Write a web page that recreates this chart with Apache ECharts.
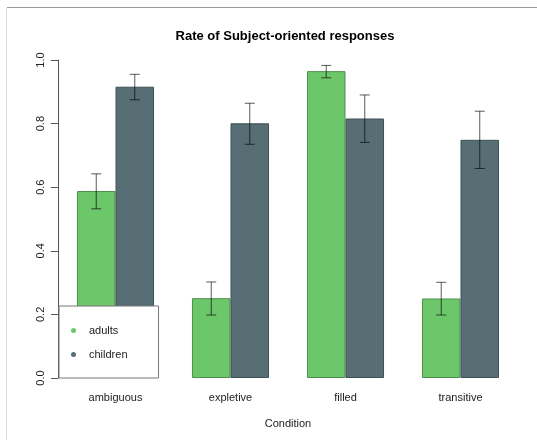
<!DOCTYPE html>
<html>
<head>
<meta charset="utf-8">
<script src="https://cdn.jsdelivr.net/npm/echarts@6/dist/echarts.min.js"></script>
<style>
  html, body { margin: 0; padding: 0; background: #fff; }
  #chart_1 { width: 537px; height: 440px; }
</style>
</head>
<body>
<div id="chart_1"></div>
<script>
var categories = ['ambiguous', 'expletive', 'filled', 'transitive'];
var adultsMean = [0.588, 0.251, 0.965, 0.250];
var adultsLow = [0.532, 0.198, 0.944, 0.198];
var adultsHigh = [0.642, 0.302, 0.983, 0.301];
var childrenMean = [0.916, 0.801, 0.816, 0.749];
var childrenLow = [0.875, 0.735, 0.741, 0.659];
var childrenHigh = [0.955, 0.864, 0.890, 0.839];
var yTicks = [0, 0.2, 0.4, 0.6, 0.8, 1.0];

var chart_1 = echarts.init(document.getElementById('chart_1'));

// error bar drawn per category, shifted to the centre of its bar
function errorSeries(name, low, high, offset) {
    var data = [];
    for (var i = 0; i < low.length; i++) {
        data.push([i, low[i], high[i]]);
    }
    return {
        name: name + '_err',
        type: 'custom',
        z: 10,
        renderItem: function (params, api) {
            var lo = api.coord([api.value(0), api.value(1)]);
            var hi = api.coord([api.value(0), api.value(2)]);
            var band = api.size([1, 0])[0];
            var x = lo[0] + offset * band;
            var cap = 5;
            var st = { stroke: 'rgba(0,0,0,0.65)', lineWidth: 1 };
            return {
                type: 'group',
                children: [
                    { type: 'line', shape: { x1: x, y1: lo[1], x2: x, y2: hi[1] }, style: st },
                    { type: 'line', shape: { x1: x - cap, y1: hi[1], x2: x + cap, y2: hi[1] }, style: st },
                    { type: 'line', shape: { x1: x - cap, y1: lo[1], x2: x + cap, y2: lo[1] }, style: st }
                ]
            };
        },
        data: data
    };
}

var option = {
    backgroundColor: '#fff',
    animation: false,
    title: {
        text: 'Rate of Subject-oriented responses',
        left: 280,
        textAlign: 'center',
        top: 25,
        textStyle: { fontFamily: 'Liberation Sans', fontSize: 13, fontWeight: 'bold', color: '#000' }
    },
    grid: { left: 58, right: 19, top: 60, bottom: 62 },
    legend: {
        data: ['adults', 'children'],
        orient: 'vertical',
        left: 59,
        top: 306,
        padding: [19, 31, 18, 12],
        itemGap: 13,
        itemWidth: 5,
        itemHeight: 5,
        icon: 'circle',
        itemStyle: { borderWidth: 0 },
        backgroundColor: '#fff',
        borderColor: '#777',
        borderWidth: 1,
        textStyle: { fontFamily: 'Liberation Sans', fontSize: 11, color: '#222', padding: [0, 0, 0, 8] }
    },
    xAxis: {
        type: 'category',
        data: categories,
        name: 'Condition',
        nameLocation: 'middle',
        nameGap: 40,
        nameTextStyle: { fontFamily: 'Liberation Sans', fontSize: 11, color: '#222' },
        axisLine: { show: false },
        axisTick: { show: false },
        axisLabel: { margin: 14, fontFamily: 'Liberation Sans', fontSize: 11, color: '#222' }
    },
    yAxis: {
        type: 'value',
        min: 0,
        max: 1,
        interval: 0.2,
        axisLine: { show: true, lineStyle: { color: '#555' } },
        axisTick: { show: true, length: 7, lineStyle: { color: '#555' } },
        splitLine: { show: false },
        axisLabel: {
            rotate: 90,
            margin: 12,
            fontFamily: 'Liberation Sans',
            fontSize: 11,
            color: '#222',
            formatter: function (v) { return yTicks.indexOf(v) >= 0 ? v.toFixed(1) : ''; }
        }
    },
    series: [
        {
            name: 'adults',
            type: 'bar',
            data: adultsMean,
            barWidth: '33.5%',
            barGap: '0%',
            itemStyle: { color: '#6cc66a', borderColor: '#4f8f4e', borderWidth: 1 }
        },
        {
            name: 'children',
            type: 'bar',
            data: childrenMean,
            barWidth: '33.5%',
            barGap: '0%',
            itemStyle: { color: '#566e74', borderColor: '#3f5256', borderWidth: 1 }
        },
        errorSeries('adults', adultsLow, adultsHigh, -0.1675),
        errorSeries('children', childrenLow, childrenHigh, 0.1675)
    ],
    graphic: [
        { type: 'line', shape: { x1: 7, y1: 7.5, x2: 537, y2: 7.5 }, style: { stroke: '#999', lineWidth: 1 }, z: 100 },
        { type: 'line', shape: { x1: 6.5, y1: 8, x2: 6.5, y2: 440 }, style: { stroke: '#ddd', lineWidth: 1 }, z: 100 }
    ]
};

chart_1.setOption(option);
</script>
</body>
</html>
